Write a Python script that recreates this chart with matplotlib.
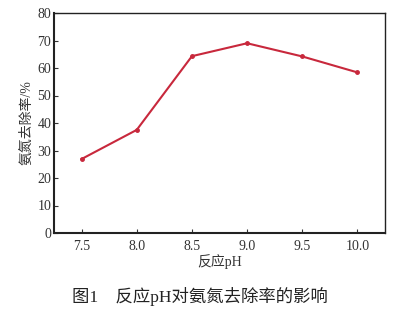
import matplotlib.pyplot as plt

# data
ph = [7.5, 8.0, 8.5, 9.0, 9.5, 10.0]
removal = [26.9, 37.5, 64.3, 69.0, 64.2, 58.4]

xticks = [7.5, 8.0, 8.5, 9.0, 9.5, 10.0]
yticks = [0, 10, 20, 30, 40, 50, 60, 70, 80]

plt.rcParams['font.family'] = ['Liberation Serif', 'Noto Sans CJK SC']

fig = plt.figure(figsize=(4.13, 3.17), dpi=100)
ax = fig.add_axes([54 / 413, 1 - 233 / 317, 331 / 413, 220 / 317])

ax.plot(ph, removal, color='#c8283c', lw=1.5, marker='o', ms=2.5)

ax.set_xlim(7.25, 10.25)
ax.set_ylim(0, 80)
ax.set_xticks(xticks)
ax.set_xticklabels([f"{v:.1f}" for v in xticks])
ax.set_yticks(yticks)
ax.tick_params(direction='in', labelsize=10, length=3, width=0.8, colors='#333333')
ax.tick_params(axis='x', pad=5)
ax.tick_params(axis='y', pad=2)
for s in ax.spines.values():
    s.set_linewidth(1.0)
    s.set_color('#222222')
ax.spines['bottom'].set_linewidth(1.5)
ax.spines['left'].set_linewidth(1.5)

ax.set_xlabel('反应pH', fontsize=10, color='#333333', labelpad=1)
ax.set_ylabel('氨氮去除率/%', fontsize=10, color='#333333', labelpad=3)

fig.text(200 / 413, 1 - 296 / 317, '图1\u3000反应pH对氨氮去除率的影响', fontsize=12.5,
         ha='center', va='center', color='#222222')

fig.savefig('out.png', dpi=100)
